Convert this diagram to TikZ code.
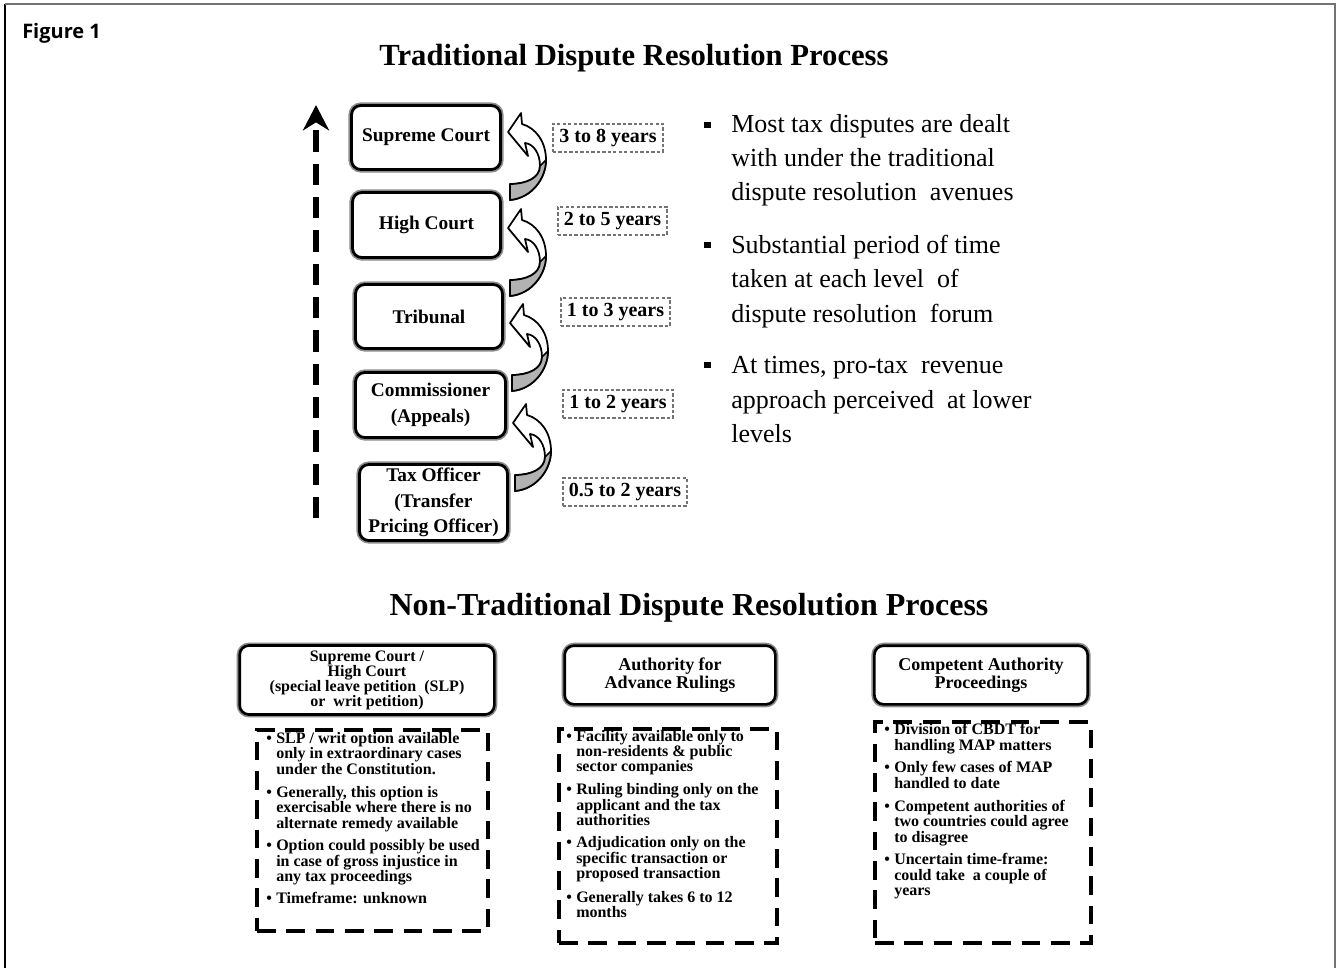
\documentclass[tikz,border=0pt]{standalone}
\usepackage{fontspec}
\setmainfont{Liberation Serif}
\newfontfamily\figfont{Open Sans}
\usetikzlibrary{arrows.meta,calc}
\tikzset{
  court/.style={draw=black, line width=2.1pt, fill=white, rounded corners=7pt,
    preaction={draw=black!45, line width=4.6pt}, align=center, inner sep=0pt,
    font=\bfseries\fontsize{14.5}{19}\selectfont},
  nbox/.style={draw=black, line width=2pt, fill=white, rounded corners=7pt,
    preaction={draw=black!45, line width=4.4pt}, align=center, inner sep=0pt},
  yearlbl/.style={draw=black!55, line width=0.8pt, dash pattern=on 2.5pt off 1.6pt,
    minimum height=21pt, inner sep=0pt, font=\bfseries\fontsize{15}{15}\selectfont},
  dbox/.style={draw=black, line width=3pt, dash pattern=on 14pt off 8pt, inner sep=0pt},
  rline/.style={anchor=base west, inner sep=0pt, font=\fontsize{19.5}{19.5}\selectfont},
  sqbul/.style={fill=black, inner sep=0pt, minimum size=5pt},
  bline/.style={anchor=base west, inner sep=0pt, font=\bfseries\fontsize{12}{12}\selectfont},
  bbul/.style={anchor=base west, inner sep=0pt, font=\bfseries\fontsize{12}{12}\selectfont},
  ribbon/.pic={
    \filldraw[fill=white, draw=black, line width=1.3pt, line join=round]
      (0,0) -- (13,-19) -- (14,-8)
      .. controls (28,-4) and (38,10) .. (38,28)
      .. controls (38,46) and (24,66) .. (2,68) -- (2,52)
      .. controls (18,52) and (32,46) .. (32,34)
      .. controls (32,22) and (26,12) .. (17,11) -- (20,24) -- cycle;
    \filldraw[fill=black!30, draw=black, line width=1.3pt, line join=round]
      (2,52) .. controls (18,52) and (32,46) .. (32,34) -- (38,28)
      .. controls (38,46) and (24,66) .. (2,68) -- cycle;
  }
}
\begin{document}
\begin{tikzpicture}[x=0.75pt,y=-0.75pt]
\useasboundingbox[fill=white] (0,0) rectangle (1341,968);
% frame
\coordinate (f1) at (5,968);
\coordinate (f2) at (5,4);
\coordinate (f3) at (1335,4);
\coordinate (f4) at (1335,968);
\draw[black, line width=1.4pt] (f1) -- (f2);
\draw[black!55, line width=1.4pt] (f2) -- (f3) -- (f4);

\node[anchor=base west, inner sep=0pt, font=\figfont\bfseries\fontsize{15}{15}\selectfont] (fig) at (22,38) {Figure 1};
\node[anchor=base, inner sep=0pt, font=\bfseries\fontsize{23}{23}\selectfont] (t1) at (634,65) {Traditional Dispute Resolution Process};

% dashed vertical arrow
\coordinate (vtop) at (316,105);
\coordinate (vbot) at (316,527);
\draw[line width=4pt, dash pattern=on 16pt off 9pt, dash phase=18.5pt, -{Stealth[length=19pt,width=19.5pt,inset=6pt]}] (vbot) -- (vtop);

% court boxes
\node[court, minimum width=111.75pt, minimum height=48pt] (sc) at (426,137.5) {Supreme Court};
\node[court, minimum width=111pt, minimum height=48.75pt] (hc) at (426.5,225) {High Court};
\node[court, minimum width=110.25pt, minimum height=48pt] (tr) at (429,316.5) {Tribunal};
\node[court, minimum width=112.5pt, minimum height=48.75pt] (cm) at (430.5,405) {Commissioner\\(Appeals)};
\node[court, minimum width=111pt, minimum height=57pt] (to) at (433.5,502.5) {Tax Officer\\(Transfer\\Pricing Officer)};

% curved ribbon arrows
\pic at (508,132) {ribbon};
\pic at (508,228) {ribbon};
\pic at (510,323) {ribbon};
\pic at (513,423) {ribbon};

% year labels
\node[yearlbl, minimum width=82.5pt] (y1) at (608,138) {3 to 8 years};
\node[yearlbl, minimum width=81.75pt] (y2) at (612.5,221) {2 to 5 years};
\node[yearlbl, minimum width=81.75pt] (y3) at (615.5,312) {1 to 3 years};
\node[yearlbl, minimum width=82.5pt] (y4) at (618,404) {1 to 2 years};
\node[yearlbl, minimum width=93pt] (y5) at (625,492) {0.5 to 2 years};

% right bullets
\node[sqbul] (s1) at (707.5,125) {};
\node[sqbul] (s2) at (707.5,245) {};
\node[sqbul] (s3) at (707.5,365) {};
\node[rline] (r1) at (731,132) {Most tax disputes are dealt};
\node[rline] (r2) at (731,166.5) {with under the traditional};
\node[rline] (r3) at (731,200.5) {dispute resolution\ \ avenues};
\node[rline] (r4) at (731,253) {Substantial period of time};
\node[rline] (r5) at (731,287.5) {taken at each level\ \ of};
\node[rline] (r6) at (731,322) {dispute resolution\ \ forum};
\node[rline] (r7) at (731,373.5) {At times, pro-tax\ \ revenue};
\node[rline] (r8) at (731,408) {approach perceived\ \ at lower};
\node[rline] (r9) at (731,442) {levels};

% second title
\node[anchor=base, inner sep=0pt, font=\bfseries\fontsize{24}{24}\selectfont] (t2) at (689,615) {Non-Traditional Dispute Resolution Process};

% bottom boxes
\node[nbox, minimum width=191pt, minimum height=51.75pt, font=\bfseries\fontsize{12}{11.3}\selectfont] (b1) at (367,680)
  {Supreme Court /\\High Court\\(special leave petition\ \ (SLP)\\or\ \ writ petition)};
\node[nbox, minimum width=158pt, minimum height=44pt, font=\bfseries\fontsize{13.5}{13.5}\selectfont] (b2) at (670,675)
  {Authority for\\Advance Rulings};
\node[nbox, minimum width=160pt, minimum height=44pt, font=\bfseries\fontsize{13.5}{13.5}\selectfont] (b3) at (981,675)
  {Competent Authority\\Proceedings};

% dashed boxes
\node[dbox, minimum width=173.25pt, minimum height=150.75pt] (d1) at (372.5,830.5) {};
\node[dbox, minimum width=163.5pt, minimum height=160.5pt] (d2) at (668,836) {};
\node[dbox, minimum width=162pt, minimum height=165.75pt] (d3) at (983,832.5) {};

% box 1 text
\node[bbul] (d1b1) at (266,743) {•};
\node[bline] (d1l1) at (276,743) {SLP / writ option available};
\node[bline] (d1l2) at (276,758.5) {only in extraordinary cases};
\node[bline] (d1l3) at (276,774) {under the Constitution.};
\node[bbul] (d1b2) at (266,797) {•};
\node[bline] (d1l4) at (276,797) {Generally, this option is};
\node[bline] (d1l5) at (276,812) {exercisable where there is no};
\node[bline] (d1l6) at (276,828) {alternate remedy available};
\node[bbul] (d1b3) at (266,850) {•};
\node[bline] (d1l7) at (276,850) {Option could possibly be used};
\node[bline] (d1l8) at (276,866) {in case of gross injustice in};
\node[bline] (d1l9) at (276,881) {any tax proceedings};
\node[bbul] (d1b4) at (266,903) {•};
\node[bline] (d1l10) at (276,903) {Timeframe: unknown};

% box 2 text
\node[bbul] (d2b1) at (566,741) {•};
\node[bline] (d2l1) at (576,741) {Facility available only to};
\node[bline] (d2l2) at (576,756) {non-residents \& public};
\node[bline] (d2l3) at (576,771) {sector companies};
\node[bbul] (d2b2) at (566,794) {•};
\node[bline] (d2l4) at (576,794) {Ruling binding only on the};
\node[bline] (d2l5) at (576,810) {applicant and the tax};
\node[bline] (d2l6) at (576,825) {authorities};
\node[bbul] (d2b3) at (566,847) {•};
\node[bline] (d2l7) at (576,847) {Adjudication only on the};
\node[bline] (d2l8) at (576,863) {specific transaction or};
\node[bline] (d2l9) at (576,878) {proposed transaction};
\node[bbul] (d2b4) at (566,902) {•};
\node[bline] (d2l10) at (576,902) {Generally takes 6 to 12};
\node[bline] (d2l11) at (576,917) {months};

% box 3 text
\node[bbul] (d3b1) at (884,734) {•};
\node[bline] (d3l1) at (894,734) {Division of CBDT for};
\node[bline] (d3l2) at (894,750) {handling MAP matters};
\node[bbul] (d3b2) at (884,772) {•};
\node[bline] (d3l3) at (894,772) {Only few cases of MAP};
\node[bline] (d3l4) at (894,788) {handled to date};
\node[bbul] (d3b3) at (884,811) {•};
\node[bline] (d3l5) at (894,811) {Competent authorities of};
\node[bline] (d3l6) at (894,826) {two countries could agree};
\node[bline] (d3l7) at (894,842) {to disagree};
\node[bbul] (d3b4) at (884,864) {•};
\node[bline] (d3l8) at (894,864) {Uncertain time-frame:};
\node[bline] (d3l9) at (894,880) {could take\ \ a couple of};
\node[bline] (d3l10) at (894,895) {years};
\end{tikzpicture}
\end{document}
